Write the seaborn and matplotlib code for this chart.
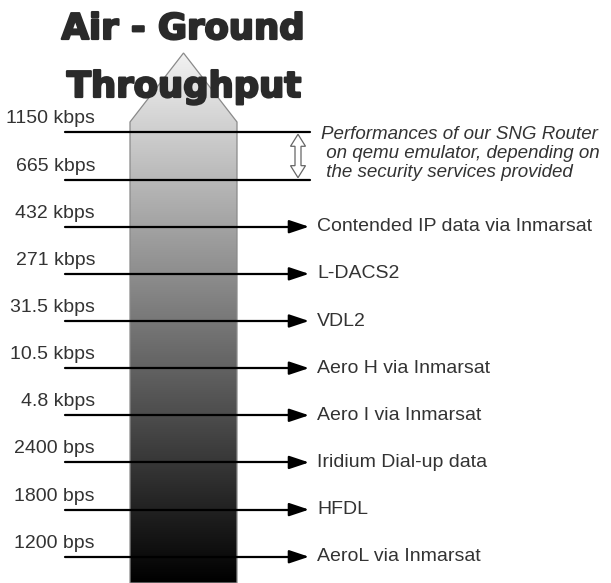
import numpy as np
import pandas as pd
import matplotlib
matplotlib.use("Agg")
import matplotlib.pyplot as plt
import matplotlib.patheffects as pe
from matplotlib.patches import Polygon
import seaborn as sns

# ---- data ----
rates = ["1150 kbps", "665 kbps", "432 kbps", "271 kbps", "31.5 kbps",
         "10.5 kbps", "4.8 kbps", "2400 bps", "1800 bps", "1200 bps"]
systems = ["", "", "Contended IP data via Inmarsat", "L-DACS2", "VDL2",
           "Aero H via Inmarsat", "Aero I via Inmarsat", "Iridium Dial-up data",
           "HFDL", "AeroL via Inmarsat"]
title_lines = ["Air - Ground", "Throughput"]
note = ("Performances of our SNG Router\n"
        " on qemu emulator, depending on\n"
        " the security services provided")

sns.set_theme(style="white")
plt.rcParams["font.family"] = ["Liberation Sans", "DejaVu Sans"]

W, H = 611, 583
fig = plt.figure(figsize=(W / 100, H / 100), dpi=100)
ax = fig.add_axes([0, 0, 1, 1])

# layout: x in pixel units, y in row units
row0_px, row_px = 132.4, 47.15
def to_row(px):
    return (px - row0_px) / row_px

y_top, y_bot = to_row(0), to_row(H)
n = len(rates)

# ---- gradient bar (arrow shape) ----
bar_l, bar_r = 130, 237
tip, shoulder = to_row(53), to_row(122)
grad = np.linspace(242, 0, 512) / 255.0
img = np.repeat(grad[:, None, None], 3, axis=2)
im = ax.imshow(img, extent=(bar_l, bar_r, y_bot, tip), origin="upper",
               aspect="auto", zorder=1, interpolation="bilinear")
shape = Polygon([(bar_l, y_bot), (bar_l, shoulder), ((bar_l + bar_r) / 2, tip),
                 (bar_r, shoulder), (bar_r, y_bot)], closed=True,
                fc="none", ec="#8a8a8a", lw=0.9, zorder=2)
ax.add_patch(shape)
im.set_clip_path(shape)

# ---- horizontal lines via seaborn ----
x_start = 65
recs = []
for i, (r, s) in enumerate(zip(rates, systems)):
    x_end = 298 if s else 310
    recs.append({"rate": r, "x": x_start, "y": i})
    recs.append({"rate": r, "x": x_end, "y": i})
df = pd.DataFrame(recs)
sns.lineplot(data=df, x="x", y="y", units="rate", estimator=None, sort=False,
             color="black", lw=1.6, ax=ax, legend=False, zorder=3)

# arrowheads and right labels
for i, s in enumerate(systems):
    if not s:
        continue
    ax.annotate("", xy=(309, i), xytext=(292, i),
                arrowprops=dict(arrowstyle="-|>,head_length=0.6,head_width=0.2",
                                color="black", lw=1.6, mutation_scale=20,
                                shrinkA=0, shrinkB=0), zorder=4)
    ax.text(317, i, s, ha="left", va="center", fontsize=14, color="#333333")

# left rate labels
for i, r in enumerate(rates):
    ax.annotate(r, xy=(95, i), xytext=(0, 6.5), textcoords="offset points",
                ha="right", va="baseline", fontsize=14, color="#333333")

# hollow double arrow for SNG router range
x0, hw, sw, hl = 298, 7.5, 3.0, 12 / row_px
ya, yb = 0.04, 0.96
dbl = Polygon([(x0, ya), (x0 + hw, ya + hl), (x0 + sw, ya + hl), (x0 + sw, yb - hl),
               (x0 + hw, yb - hl), (x0, yb), (x0 - hw, yb - hl), (x0 - sw, yb - hl),
               (x0 - sw, ya + hl), (x0 - hw, ya + hl)], closed=True,
              fc="white", ec="#666666", lw=0.9, zorder=5)
ax.add_patch(dbl)

ax.text(321, to_row(126), note, ha="left", va="top", fontsize=13.5,
        style="italic", color="#333333", linespacing=1.17)

# title
stroke = [pe.withStroke(linewidth=1.6, foreground="#2a2a2a")]
fig.text(183 / W, 1 - 39 / H, title_lines[0], ha="center", va="baseline",
         fontsize=25.5, fontweight="bold", color="#2a2a2a",
         family="DejaVu Sans", zorder=10, path_effects=stroke)
fig.text(184 / W, 1 - 97 / H, title_lines[1], ha="center", va="baseline",
         fontsize=25.5, fontweight="bold", color="#2a2a2a",
         family="DejaVu Sans", zorder=10, path_effects=stroke)

ax.set_xlim(0, W)
ax.set_ylim(y_bot, y_top)
ax.axis("off")
fig.savefig("out.png", dpi=100, facecolor="white")
